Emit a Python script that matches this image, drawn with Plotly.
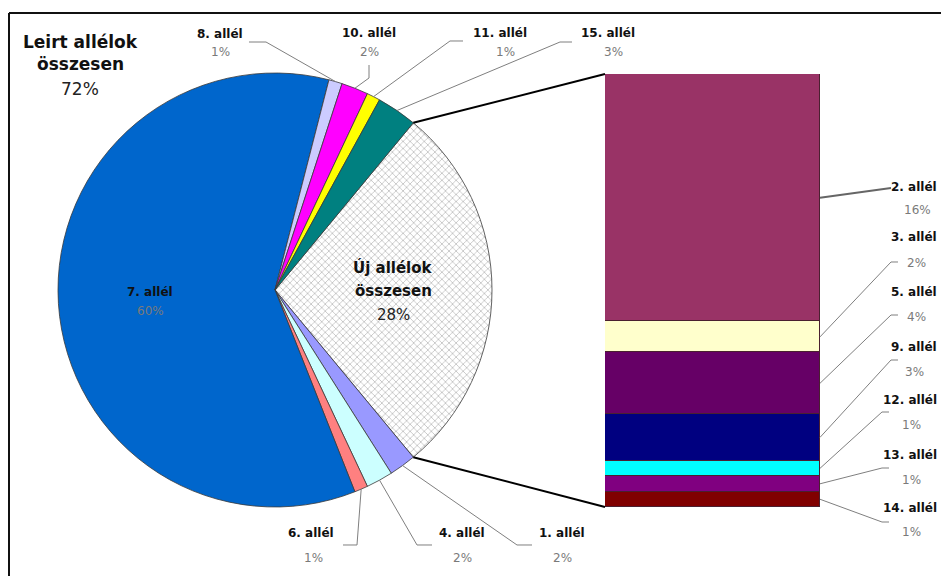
import math
import plotly.graph_objects as go

# Pie slices, clockwise from the upper edge of the "new alleles" wedge
pie_labels = ["Új allélok összesen", "1. allél", "4. allél", "6. allél", "7. allél",
              "8. allél", "10. allél", "11. allél", "15. allél"]
pie_values = [28, 2, 2, 1, 60, 1, 2, 1, 3]
pie_colors = ["#ffffff", "#9999ff", "#ccffff", "#ff8080", "#0066cc",
              "#ccccff", "#ff00ff", "#ffff00", "#008080"]

# Breakdown of the new alleles, stacked bottom to top
bar_labels = ["14. allél", "13. allél", "12. allél", "9. allél", "5. allél", "3. allél", "2. allél"]
bar_values = [1, 1, 1, 3, 4, 2, 16]
bar_colors = ["#800000", "#800080", "#00ffff", "#000080", "#660066", "#ffffcc", "#993366"]

described_label = "Leirt allélok összesen"
described_value = 72

# ---- layout geometry (pixels) ----
W, H = 941, 576
CX, CY, R = 275, 290, 217
BX0, BX1, BTOP, BBOT = 605, 820, 74, 507

NAME_FONT = dict(family="DejaVu Sans", size=12, color="#111111")
PCT_FONT = dict(family="DejaVu Sans", size=12, color="#7a7a7a")

pie_total = sum(pie_values)
new_share = pie_values[0] / pie_total
start_math = new_share * 360 / 2           # upper edge of the new-alleles wedge
rotation = 90 - start_math                  # plotly: clockwise from 12 o'clock

fig = go.Figure()

patterns = ["x"] + [""] * (len(pie_values) - 1)
fig.add_trace(go.Pie(
    labels=pie_labels, values=pie_values, sort=False, direction="clockwise",
    rotation=rotation, textinfo="none", hoverinfo="label+percent",
    marker=dict(colors=pie_colors, line=dict(color="#3a3a3a", width=0.8),
                pattern=dict(shape=patterns, fgcolor="#a8a8a8", bgcolor="#ffffff",
                             size=5, solidity=0.22)),
    domain=dict(x=[(CX - R) / W, (CX + R) / W], y=[(H - CY - R) / H, (H - CY + R) / H]),
    showlegend=False,
))

bar_total = sum(bar_values)
for lab, val, col in zip(bar_labels, bar_values, bar_colors):
    fig.add_trace(go.Bar(
        x=[0], y=[val], name=lab, width=1, marker=dict(color=col, line=dict(color="#4a2030", width=1)),
        showlegend=False, hoverinfo="name+y",
    ))


def pie_point(math_deg):
    a = math.radians(math_deg)
    return CX + R * math.cos(a), CY - R * math.sin(a)


def bar_y(v):
    return BTOP + (1 - v / bar_total) * (BBOT - BTOP)


def px(x):
    return x / W


def py(y):
    return 1 - y / H


shapes = []


def polyline(points, color="#7f7f7f", width=1):
    path = "M " + " L ".join(f"{px(x):.5f},{py(y):.5f}" for x, y in points)
    shapes.append(dict(type="path", path=path, xref="paper", yref="paper",
                       line=dict(color=color, width=width), fillcolor="rgba(0,0,0,0)"))


# label positions: name centre, percentage centre, leader start points
pie_label_pos = {
    "1. allél": dict(xy=(562, 533), pxy=(562, 558), lead=[(532, 545), (517, 545)]),
    "4. allél": dict(xy=(462, 533), pxy=(462, 558), lead=[(432, 545), (417, 545)]),
    "6. allél": dict(xy=(311, 533), pxy=(313, 558), lead=[(343, 545), (357, 545)]),
    "7. allél": dict(xy=(150, 292), pxy=(150, 311), lead=None),
    "8. allél": dict(xy=(220, 34), pxy=(220, 52), lead=[(249, 42), (266, 42)]),
    "10. allél": dict(xy=(369, 33), pxy=(369, 52), lead=[(369, 65), (369, 78)]),
    "11. allél": dict(xy=(500, 33), pxy=(505, 52), lead=[(463, 41), (450, 41)]),
    "15. allél": dict(xy=(608, 33), pxy=(613, 52), lead=[(572, 42), (560, 42)]),
}

annotations = []


def text(x, y, s, font, anchor="center"):
    annotations.append(dict(x=px(x), y=py(y), xref="paper", yref="paper", text=s,
                            showarrow=False, font=font, xanchor=anchor, yanchor="middle"))


cum = 0
for lab, val in zip(pie_labels, pie_values):
    mid = start_math - (cum + val / 2) / pie_total * 360
    cum += val
    if lab not in pie_label_pos:
        continue
    pos = pie_label_pos[lab]
    text(*pos["xy"], f"<b>{lab}</b>", NAME_FONT)
    text(*pos["pxy"], f"{round(val / pie_total * 100)}%", PCT_FONT)
    if pos["lead"]:
        polyline(pos["lead"] + [pie_point(mid)])

# summary texts
big_bold = dict(family="DejaVu Sans", size=17, color="#111111")
big_reg = dict(family="DejaVu Sans", size=17, color="#222222")
text(80, 42, "<b>Leirt allélok</b>", big_bold)
text(80, 64, "<b>összesen</b>", big_bold)
text(80, 89, f"{described_value}%", big_reg)

new_font_b = dict(family="DejaVu Sans", size=15, color="#111111")
new_font_r = dict(family="DejaVu Sans", size=15, color="#222222")
text(393, 267, "<b>Új allélok</b>", new_font_b)
text(393, 291, "<b>összesen</b>", new_font_b)
text(393, 315, f"{round(new_share * 100)}%", new_font_r)

# bar labels (names right-aligned to the page edge)
NAME_RIGHT = 939
bar_label_pos = {
    "2. allél": dict(y=187, pxy=(917, 210), lead=[(891, 188)]),
    "3. allél": dict(y=237, pxy=(916, 263), lead=[(898, 262), (891, 262)]),
    "5. allél": dict(y=292, pxy=(916, 317), lead=[(898, 315), (891, 315)]),
    "9. allél": dict(y=347, pxy=(914, 372), lead=[(898, 360), (891, 360)]),
    "12. allél": dict(y=400, pxy=(911, 425), lead=[(889, 412), (882, 412)]),
    "13. allél": dict(y=455, pxy=(911, 480), lead=[(889, 468), (882, 468)]),
    "14. allél": dict(y=508, pxy=(911, 532), lead=[(889, 522), (882, 522)]),
}
cum = 0
for lab, val in zip(bar_labels, bar_values):
    mid = bar_y(cum + val / 2)
    cum += val
    pos = bar_label_pos[lab]
    text(NAME_RIGHT, pos["y"], f"<b>{lab}</b>", NAME_FONT, anchor="right")
    text(*pos["pxy"], f"{round(val / pie_total * 100)}%", PCT_FONT)
    w = 2 if lab == "2. allél" else 1
    col = "#666666" if lab == "2. allél" else "#7f7f7f"
    polyline(pos["lead"] + [(BX1, mid)], color=col, width=w)

# connectors from the new-alleles wedge to the bar
polyline([pie_point(start_math), (BX0, BTOP)], color="#000000", width=2)
polyline([pie_point(start_math - new_share * 360), (BX0, BBOT)], color="#000000", width=2)

# chart-area frame
shapes.append(dict(type="line", xref="paper", yref="paper", x0=px(9), x1=px(9), y0=py(13), y1=-0.1,
                   line=dict(color="#111111", width=2)))
shapes.append(dict(type="line", xref="paper", yref="paper", x0=px(9), x1=1.1, y0=py(13), y1=py(13),
                   line=dict(color="#111111", width=2)))

fig.update_layout(
    width=W, height=H, margin=dict(l=0, r=0, t=0, b=0),
    paper_bgcolor="#ffffff", plot_bgcolor="rgba(0,0,0,0)",
    barmode="stack", bargap=0,
    xaxis=dict(domain=[BX0 / W, BX1 / W], range=[-0.5, 0.5], visible=False, fixedrange=True),
    yaxis=dict(domain=[1 - BBOT / H, 1 - BTOP / H], range=[0, bar_total], visible=False, fixedrange=True),
    shapes=shapes, annotations=annotations,
)

fig.write_html("out.html")
